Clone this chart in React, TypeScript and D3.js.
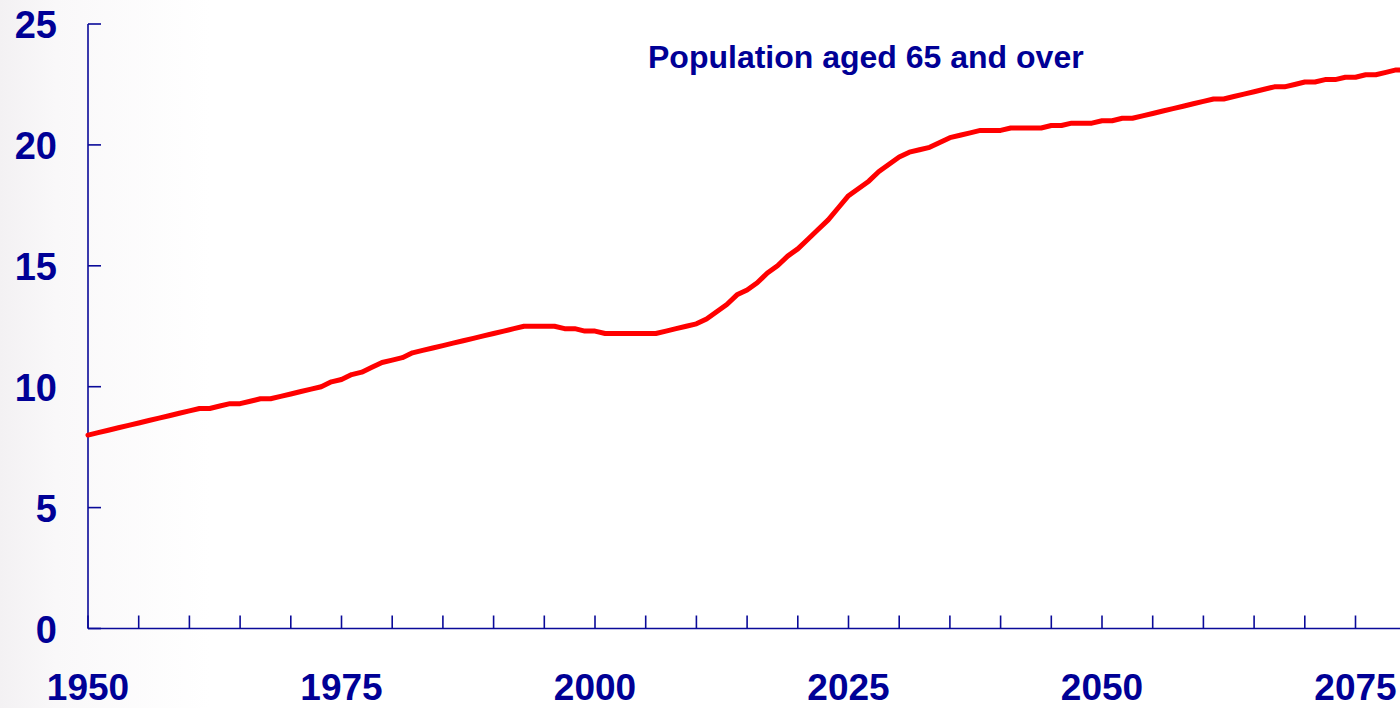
import React from "react";
import * as d3 from "d3";

const years: number[] = d3.range(1950, 2081);
const share65: number[] = [
  8.0, 8.1, 8.2, 8.3, 8.4, 8.5, 8.6, 8.7, 8.8, 8.9,
  9.0, 9.1, 9.1, 9.2, 9.3, 9.3, 9.4, 9.5, 9.5, 9.6,
  9.7, 9.8, 9.9, 10.0, 10.2, 10.3, 10.5, 10.6, 10.8, 11.0,
  11.1, 11.2, 11.4, 11.5, 11.6, 11.7, 11.8, 11.9, 12.0, 12.1,
  12.2, 12.3, 12.4, 12.5, 12.5, 12.5, 12.5, 12.4, 12.4, 12.3,
  12.3, 12.2, 12.2, 12.2, 12.2, 12.2, 12.2, 12.3, 12.4, 12.5,
  12.6, 12.8, 13.1, 13.4, 13.8, 14.0, 14.3, 14.7, 15.0, 15.4,
  15.7, 16.1, 16.5, 16.9, 17.4, 17.9, 18.2, 18.5, 18.9, 19.2,
  19.5, 19.7, 19.8, 19.9, 20.1, 20.3, 20.4, 20.5, 20.6, 20.6,
  20.6, 20.7, 20.7, 20.7, 20.7, 20.8, 20.8, 20.9, 20.9, 20.9,
  21.0, 21.0, 21.1, 21.1, 21.2, 21.3, 21.4, 21.5, 21.6, 21.7,
  21.8, 21.9, 21.9, 22.0, 22.1, 22.2, 22.3, 22.4, 22.4, 22.5,
  22.6, 22.6, 22.7, 22.7, 22.8, 22.8, 22.9, 22.9, 23.0, 23.1,
  23.1,
];
const yTicks: number[] = [0, 5, 10, 15, 20, 25];
const xMinorTicks: number[] = d3.range(1950, 2081, 5);
const xLabelYears: number[] = [1950, 1975, 2000, 2025, 2050, 2075];
const title = "Population aged 65 and over";

const W = 1400;
const H = 708;
const NAVY = "#000096";
const AXIS = "#0a0a99";

export default function App() {
  const x = d3.scaleLinear().domain([1950, 2080]).range([88, 88 + 130 * 10.14]);
  const y = d3.scaleLinear().domain([0, 25]).range([628.5, 24]);
  const data = years.map((yr, i) => ({ yr, v: share65[i] }));
  const line = d3
    .line<{ yr: number; v: number }>()
    .x((d) => x(d.yr))
    .y((d) => y(d.v));
  const font = "'Liberation Sans', Arial, Helvetica, sans-serif";

  return (
    <svg
      width={W}
      height={H}
      style={{ position: "fixed", left: 0, top: 0, display: "block" }}
    >
      <defs>
        <linearGradient id="bg" x1="0" y1="0" x2="1" y2="0">
          <stop offset="0" stopColor="#f3f1f3" />
          <stop offset="0.04" stopColor="#f9f8f9" />
          <stop offset="0.15" stopColor="#ffffff" />
          <stop offset="1" stopColor="#ffffff" />
        </linearGradient>
      </defs>
      <rect x={0} y={0} width={W} height={H} fill="url(#bg)" />

      {/* y axis */}
      <line x1={x(1950)} x2={x(1950)} y1={y(25)} y2={y(0)} stroke={AXIS} strokeWidth={1.6} />
      {yTicks.map((t) => (
        <g key={"yt" + t}>
          <line x1={x(1950)} x2={x(1950) + 13} y1={y(t)} y2={y(t)} stroke={AXIS} strokeWidth={1.6} />
          <text
            x={57}
            y={y(t) + 14}
            textAnchor="end"
            fontFamily={font}
            fontWeight="bold"
            fontSize={38}
            fill={NAVY}
          >
            {t}
          </text>
        </g>
      ))}

      {/* x axis */}
      <line x1={x(1950)} x2={W} y1={y(0)} y2={y(0)} stroke={AXIS} strokeWidth={1.6} />
      {xMinorTicks.map((t) => (
        <line key={"xt" + t} x1={x(t)} x2={x(t)} y1={y(0)} y2={y(0) - 13} stroke={AXIS} strokeWidth={1.6} />
      ))}
      {xLabelYears.map((t) => (
        <text
          key={"xl" + t}
          x={x(t)}
          y={700}
          textAnchor="middle"
          fontFamily={font}
          fontWeight="bold"
          fontSize={37}
          fill={NAVY}
        >
          {t}
        </text>
      ))}

      {/* series */}
      <path
        d={line(data) || ""}
        fill="none"
        stroke="#ff0000"
        strokeWidth={5}
        strokeLinejoin="round"
        strokeLinecap="round"
      />

      {/* title */}
      <text x={648} y={68} fontFamily={font} fontWeight="bold" fontSize={32} fill={NAVY}>
        {title}
      </text>
    </svg>
  );
}
